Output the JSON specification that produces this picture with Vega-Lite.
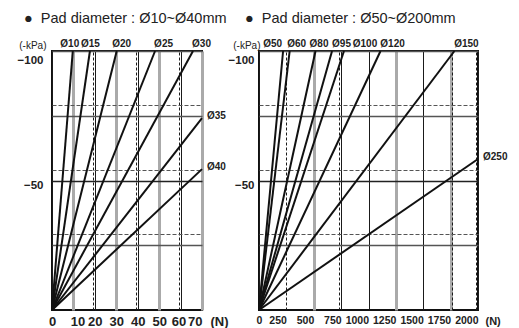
{
  "$schema": "https://vega.github.io/schema/vega-lite/v6.json",
  "background": "white",
  "padding": {"left": 16, "top": 10, "right": 0, "bottom": 0},
  "bounds": "flush",
  "spacing": 57,
  "config": {
    "view": {"stroke": "#111", "strokeWidth": 2},
    "font": "Liberation Sans"
  },
  "hconcat": [
    {
      "width": 150,
      "height": 259,
      "title": {"text": "●\u00a0\u00a0Pad diameter : Ø10~Ø40mm", "anchor": "start", "frame": "group", "dx": -28, "fontSize": 14.5, "fontWeight": "normal", "color": "#222", "offset": 12, "font": "Liberation Sans"},
      "data": {"values": [
        {"pad": "Ø10", "force": 0, "pressure": 0}, {"pad": "Ø10", "force": 9.7, "pressure": -100},
        {"pad": "Ø15", "force": 0, "pressure": 0}, {"pad": "Ø15", "force": 17.7, "pressure": -100},
        {"pad": "Ø20", "force": 0, "pressure": 0}, {"pad": "Ø20", "force": 30.2, "pressure": -100},
        {"pad": "Ø25", "force": 0, "pressure": 0}, {"pad": "Ø25", "force": 48.1, "pressure": -100},
        {"pad": "Ø30", "force": 0, "pressure": 0}, {"pad": "Ø30", "force": 65.8, "pressure": -100},
        {"pad": "Ø35", "force": 0, "pressure": 0}, {"pad": "Ø35", "force": 70, "pressure": -74.1},
        {"pad": "Ø40", "force": 0, "pressure": 0}, {"pad": "Ø40", "force": 70, "pressure": -54.4}
      ]},
      "encoding": {
        "x": {"field": "force", "type": "quantitative",
          "scale": {"domain": [0, 70], "nice": false},
          "axis": {
            "title": "(N)", "titleX": 158, "titleY": 11, "titleAlign": "left", "titleBaseline": "middle", "titleAnchor": null,
            "titleFont": "Liberation Sans", "titleFontSize": 13, "titleFontWeight": "bold", "titleColor": "#222",
            "values": [0, 10, 19.3, 20, 30, 39.3, 40, 50, 59.3, 60, 69.3, 70],
            "labelExpr": "datum.value % 10 == 0 ? datum.label : ''",
            "labelAlign": {"condition": {"test": "datum.value == 70", "value": "right"}, "value": "center"},
            "labelOffset": {"condition": [{"test": "datum.value == 10", "value": 4}, {"test": "datum.value == 60", "value": -2}], "value": 0},
            "labelOverlap": false, "labelPadding": 5,
            "labelFont": "Liberation Sans", "labelFontSize": 13, "labelFontWeight": "bold", "labelColor": "#222",
            "ticks": false, "domain": false, "grid": true,
            "gridOpacity": 1,
            "gridColor": {"condition": {"test": "datum.value == 10 || datum.value == 30 || datum.value == 50 || datum.value == 70", "value": "#aaaaaa"}, "value": "#1a1a1a"},
            "gridWidth": {"condition": {"test": "datum.value == 10 || datum.value == 30 || datum.value == 50 || datum.value == 70", "value": 3}, "value": 1},
            "gridDash": {"condition": {"test": "datum.value % 10 != 0", "value": [3, 2]}, "value": []}
          }
        },
        "y": {"field": "pressure", "type": "quantitative",
          "scale": {"domain": [-100, 0], "reverse": true, "nice": false},
          "axis": {
            "title": "(-kPa)", "titleAngle": 0, "titleAlign": "right", "titleBaseline": "middle", "titleX": -6, "titleY": -6, "titleAnchor": null,
            "titleFont": "Liberation Sans", "titleFontSize": 10, "titleFontWeight": "normal", "titleColor": "#222",
            "values": [-100, -79.2, -75, -54.2, -50, -29.2, -25],
            "labelExpr": "datum.value == -100 || datum.value == -50 ? datum.label : ''",
            "labelOverlap": false, "labelPadding": 9,
            "labelOffset": {"condition": {"test": "datum.value == -100", "value": 9}, "value": 5},
            "labelFont": "Liberation Sans", "labelFontSize": 11.5, "labelFontWeight": "bold", "labelColor": "#222",
            "ticks": false, "domain": false, "grid": true,
            "gridOpacity": 1,
            "gridColor": {"condition": {"test": "datum.value == -50", "value": "#222"}, "value": "#555"},
            "gridWidth": {"condition": {"test": "datum.value % 25 == 0", "value": 1.3}, "value": 1},
            "gridDash": {"condition": {"test": "datum.value % 25 != 0", "value": [4, 2]}, "value": []}
          }
        }
      },
      "layer": [
        {"mark": {"type": "line", "color": "#111", "strokeWidth": 2}, "encoding": {"detail": {"field": "pad"}, "order": {"field": "force"}}},
        {"transform": [{"filter": {"and": [{"field": "pad", "oneOf": ["Ø10"]}, {"field": "force", "gt": 0}]}}],
         "mark": {"type": "text", "align": "center", "baseline": "middle", "dx": -3, "dy": -7.5, "font": "Liberation Sans", "fontSize": 10, "fontWeight": "bold", "color": "#222"},
         "encoding": {"text": {"field": "pad"}}},
        {"transform": [{"filter": {"and": [{"field": "pad", "oneOf": ["Ø15"]}, {"field": "force", "gt": 0}]}}],
         "mark": {"type": "text", "align": "center", "baseline": "middle", "dx": 0.5, "dy": -7.5, "font": "Liberation Sans", "fontSize": 10, "fontWeight": "bold", "color": "#222"},
         "encoding": {"text": {"field": "pad"}}},
        {"transform": [{"filter": {"and": [{"field": "pad", "oneOf": ["Ø20"]}, {"field": "force", "gt": 0}]}}],
         "mark": {"type": "text", "align": "center", "baseline": "middle", "dx": 5, "dy": -7.5, "font": "Liberation Sans", "fontSize": 10, "fontWeight": "bold", "color": "#222"},
         "encoding": {"text": {"field": "pad"}}},
        {"transform": [{"filter": {"and": [{"field": "pad", "oneOf": ["Ø25", "Ø30"]}, {"field": "force", "gt": 0}]}}],
         "mark": {"type": "text", "align": "center", "baseline": "middle", "dx": 8.5, "dy": -7.5, "font": "Liberation Sans", "fontSize": 10, "fontWeight": "bold", "color": "#222"},
         "encoding": {"text": {"field": "pad"}}},
        {"transform": [{"filter": {"and": [{"field": "pad", "oneOf": ["Ø35", "Ø40"]}, {"field": "force", "gt": 0}]}}],
         "mark": {"type": "text", "align": "left", "baseline": "middle", "dx": 5, "dy": -2.5, "font": "Liberation Sans", "fontSize": 10, "fontWeight": "bold", "color": "#222"},
         "encoding": {"text": {"field": "pad"}}}
      ]
    },
    {
      "width": 219,
      "height": 259,
      "title": {"text": "●\u00a0\u00a0Pad diameter : Ø50~Ø200mm", "anchor": "start", "frame": "group", "dx": -14, "fontSize": 14.5, "fontWeight": "normal", "color": "#222", "offset": 12, "font": "Liberation Sans"},
      "data": {"values": [
        {"pad": "Ø50", "force": 0, "pressure": 0}, {"pad": "Ø50", "force": 220, "pressure": -100},
        {"pad": "Ø60", "force": 0, "pressure": 0}, {"pad": "Ø60", "force": 280, "pressure": -100},
        {"pad": "Ø80", "force": 0, "pressure": 0}, {"pad": "Ø80", "force": 516, "pressure": -100},
        {"pad": "Ø95", "force": 0, "pressure": 0}, {"pad": "Ø95", "force": 667, "pressure": -100},
        {"pad": "Ø100", "force": 0, "pressure": 0}, {"pad": "Ø100", "force": 776, "pressure": -100},
        {"pad": "Ø120", "force": 0, "pressure": 0}, {"pad": "Ø120", "force": 1110, "pressure": -100},
        {"pad": "Ø150", "force": 0, "pressure": 0}, {"pad": "Ø150", "force": 1785, "pressure": -100},
        {"pad": "Ø250", "force": 0, "pressure": 0}, {"pad": "Ø250", "force": 2000, "pressure": -58.3}
      ]},
      "encoding": {
        "x": {"field": "force", "type": "quantitative",
          "scale": {"domain": [0, 2000], "nice": false},
          "axis": {
            "title": "(N)", "titleX": 226, "titleY": 11, "titleAlign": "left", "titleBaseline": "middle", "titleAnchor": null,
            "titleFont": "Liberation Sans", "titleFontSize": 11, "titleFontWeight": "bold", "titleColor": "#222",
            "values": [0, 250, 500, 735, 750, 1000, 1250, 1500, 1750, 1765, 1985, 2000],
            "labelExpr": "datum.value % 250 == 0 ? datum.label : ''",
            "format": "d",
            "labelAlign": {"condition": {"test": "datum.value == 0", "value": "center"}, "value": "right"},
            "labelOverlap": false, "labelPadding": 5,
            "labelFont": "Liberation Sans", "labelFontSize": 10.5, "labelFontWeight": "bold", "labelColor": "#222",
            "ticks": false, "domain": false, "grid": true,
            "gridOpacity": 1,
            "gridColor": {"condition": {"test": "datum.value == 500 || datum.value == 1250 || datum.value == 1750", "value": "#aaaaaa"}, "value": "#1a1a1a"},
            "gridWidth": {"condition": {"test": "datum.value == 500 || datum.value == 1250 || datum.value == 1750", "value": 3}, "value": 1},
            "gridDash": {"condition": {"test": "datum.value % 250 != 0 || datum.value == 250", "value": [3, 2]}, "value": []}
          }
        },
        "y": {"field": "pressure", "type": "quantitative",
          "scale": {"domain": [-100, 0], "reverse": true, "nice": false},
          "axis": {
            "title": "(-kPa)", "titleAngle": 0, "titleAlign": "right", "titleBaseline": "middle", "titleX": 1, "titleY": -6, "titleAnchor": null,
            "titleFont": "Liberation Sans", "titleFontSize": 10, "titleFontWeight": "normal", "titleColor": "#222",
            "values": [-100, -79.2, -75, -54.2, -50, -29.2, -25],
            "labelExpr": "datum.value == -100 || datum.value == -50 ? datum.label : ''",
            "labelOverlap": false, "labelPadding": 5,
            "labelOffset": {"condition": {"test": "datum.value == -100", "value": 9}, "value": 5},
            "labelFont": "Liberation Sans", "labelFontSize": 11.5, "labelFontWeight": "bold", "labelColor": "#222",
            "ticks": false, "domain": false, "grid": true,
            "gridOpacity": 1,
            "gridColor": {"condition": {"test": "datum.value == -50", "value": "#222"}, "value": "#555"},
            "gridWidth": {"condition": {"test": "datum.value % 25 == 0", "value": 1.3}, "value": 1},
            "gridDash": {"condition": {"test": "datum.value % 25 != 0", "value": [4, 2]}, "value": []}
          }
        }
      },
      "layer": [
        {"mark": {"type": "line", "color": "#111", "strokeWidth": 2}, "encoding": {"detail": {"field": "pad"}, "order": {"field": "force"}}},
        {"transform": [{"filter": {"and": [{"field": "pad", "oneOf": ["Ø50"]}, {"field": "force", "gt": 0}]}}],
         "mark": {"type": "text", "align": "center", "baseline": "middle", "dx": -10.5, "dy": -7.5, "font": "Liberation Sans", "fontSize": 10, "fontWeight": "bold", "color": "#222"},
         "encoding": {"text": {"field": "pad"}}},
        {"transform": [{"filter": {"and": [{"field": "pad", "oneOf": ["Ø60"]}, {"field": "force", "gt": 0}]}}],
         "mark": {"type": "text", "align": "center", "baseline": "middle", "dx": 7, "dy": -7.5, "font": "Liberation Sans", "fontSize": 10, "fontWeight": "bold", "color": "#222"},
         "encoding": {"text": {"field": "pad"}}},
        {"transform": [{"filter": {"and": [{"field": "pad", "oneOf": ["Ø80"]}, {"field": "force", "gt": 0}]}}],
         "mark": {"type": "text", "align": "center", "baseline": "middle", "dx": 3.5, "dy": -7.5, "font": "Liberation Sans", "fontSize": 10, "fontWeight": "bold", "color": "#222"},
         "encoding": {"text": {"field": "pad"}}},
        {"transform": [{"filter": {"and": [{"field": "pad", "oneOf": ["Ø95"]}, {"field": "force", "gt": 0}]}}],
         "mark": {"type": "text", "align": "center", "baseline": "middle", "dx": 9.5, "dy": -7.5, "font": "Liberation Sans", "fontSize": 10, "fontWeight": "bold", "color": "#222"},
         "encoding": {"text": {"field": "pad"}}},
        {"transform": [{"filter": {"and": [{"field": "pad", "oneOf": ["Ø100"]}, {"field": "force", "gt": 0}]}}],
         "mark": {"type": "text", "align": "center", "baseline": "middle", "dx": 21, "dy": -7.5, "font": "Liberation Sans", "fontSize": 10, "fontWeight": "bold", "color": "#222"},
         "encoding": {"text": {"field": "pad"}}},
        {"transform": [{"filter": {"and": [{"field": "pad", "oneOf": ["Ø120", "Ø150"]}, {"field": "force", "gt": 0}]}}],
         "mark": {"type": "text", "align": "center", "baseline": "middle", "dx": 12, "dy": -7.5, "font": "Liberation Sans", "fontSize": 10, "fontWeight": "bold", "color": "#222"},
         "encoding": {"text": {"field": "pad"}}},
        {"transform": [{"filter": {"and": [{"field": "pad", "oneOf": ["Ø250"]}, {"field": "force", "gt": 0}]}}],
         "mark": {"type": "text", "align": "left", "baseline": "middle", "dx": 5, "dy": -2, "font": "Liberation Sans", "fontSize": 10, "fontWeight": "bold", "color": "#222"},
         "encoding": {"text": {"field": "pad"}}}
      ]
    }
  ]
}
